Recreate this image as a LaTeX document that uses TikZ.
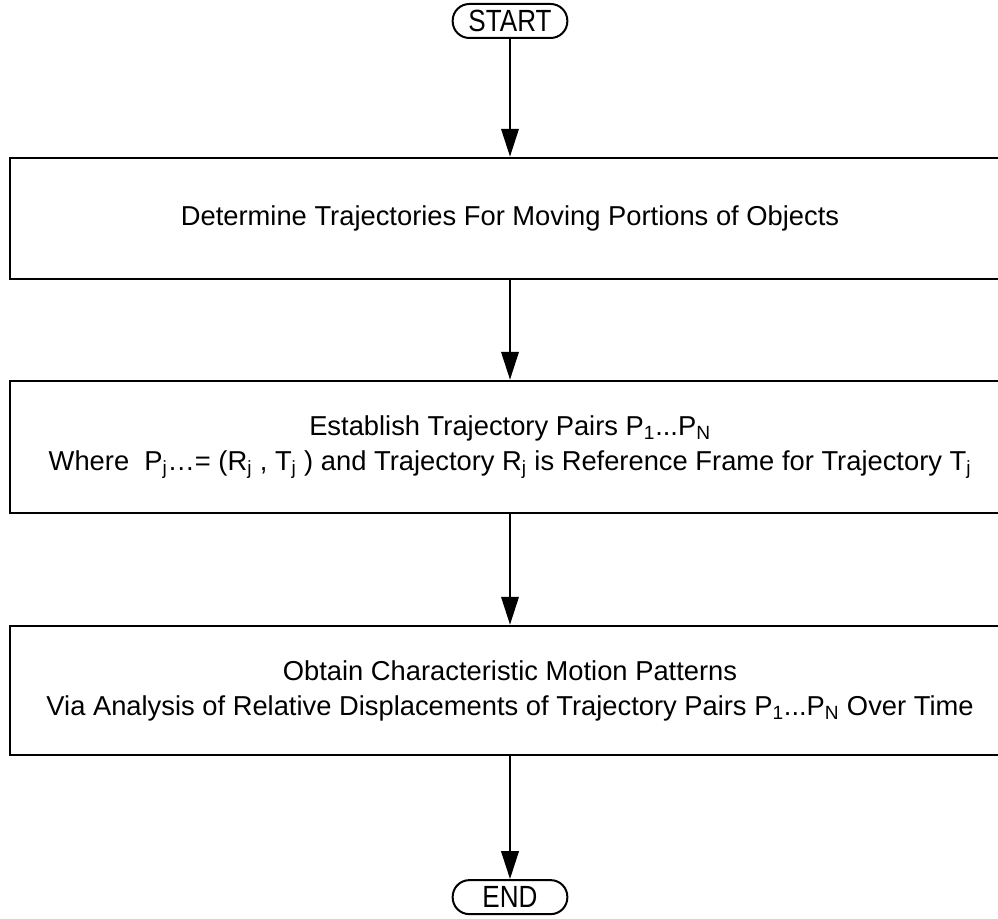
\documentclass[tikz,border=0pt]{standalone}
\usepackage{fontspec}
\setmainfont{Liberation Sans}
\newfontfamily\termfont[FakeStretch=0.85]{Liberation Sans}
\usetikzlibrary{positioning,arrows.meta}

\begin{document}
\begin{tikzpicture}[x=0.75pt,y=-0.75pt,on grid,
    term/.style={draw,line width=1.5pt,rounded corners=12.5pt,minimum width=86pt,
      minimum height=25.5pt,inner sep=0pt,font=\termfont\fontsize{23}{23}\selectfont},
    stepbox/.style={draw,line width=2pt,minimum width=750pt,inner sep=0pt,
      align=center,font=\fontsize{20.5}{26}\selectfont},
    flow/.style={-{Triangle[length=21pt,width=13pt]},line width=2pt}]
  \clip (0,0) rectangle (998,919);
  \node[term] (start) at (510,21) {START};
  \node[stepbox,minimum height=90.75pt] (determine) [below=148.2pt of start]
    {Determine Trajectories For Moving Portions of Objects};
  \node[stepbox,minimum height=99pt] (establish) [below=171.4pt of determine]
    {Establish Trajectory Pairs P\textsubscript{1}...P\textsubscript{N}\\
     Where\ \ P\textsubscript{j}…= (R\textsubscript{j} , T\textsubscript{j} ) and Trajectory R\textsubscript{j} is Reference Frame for Trajectory T\textsubscript{j}};
  \node[stepbox,minimum height=96.75pt] (obtain) [below=182.6pt of establish]
    {Obtain Characteristic Motion Patterns\\
     Via Analysis of Relative Displacements of Trajectory Pairs P\textsubscript{1}...P\textsubscript{N} Over Time};
  \node[term] (end) [below=154.9pt of obtain] {END};
  \draw[flow] (start) -- (determine);
  \draw[flow] (determine) -- (establish);
  \draw[flow] (establish) -- (obtain);
  \draw[flow] (obtain) -- (end);
\end{tikzpicture}
\end{document}
